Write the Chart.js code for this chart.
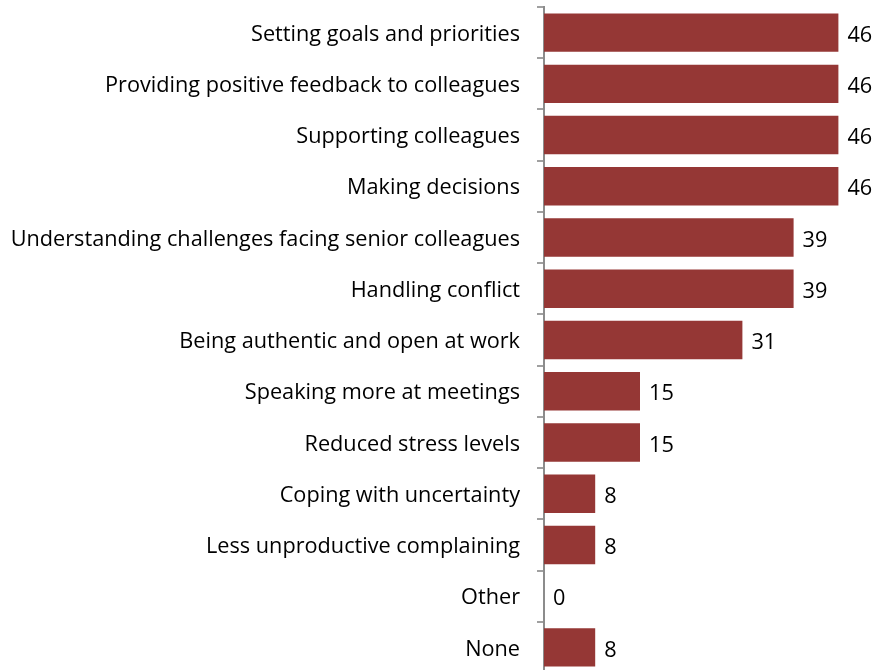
<!DOCTYPE html>
<html>
<head>
<meta charset="utf-8">
<script src="https://cdn.jsdelivr.net/npm/chart.js@4/dist/chart.umd.min.js"></script>
<style>
  html, body { margin: 0; padding: 0; background: #fff; overflow: hidden; }
  #wrap { width: 876px; height: 673px; }
</style>
</head>
<body>
<div id="wrap"><canvas id="barChart" width="876" height="673"></canvas></div>
<script>
const categories = [
    "Setting goals and priorities",
    "Providing positive feedback to colleagues",
    "Supporting colleagues",
    "Making decisions",
    "Understanding challenges facing senior colleagues",
    "Handling conflict",
    "Being authentic and open at work",
    "Speaking more at meetings",
    "Reduced stress levels",
    "Coping with uncertainty",
    "Less unproductive complaining",
    "Other",
    "None"
];
const values = [46, 46, 46, 46, 39, 39, 31, 15, 15, 8, 8, 0, 8];

const FONT = "'Open Sans', Lato, sans-serif";
const FONT_SIZE = 21.7;

// writes each value just past the end of its bar
const valueLabels = {
    id: "valueLabels",
    afterDatasetsDraw(chart) {
        const ctx = chart.ctx;
        const meta = chart.getDatasetMeta(0);
        ctx.save();
        ctx.font = FONT_SIZE + "px " + FONT;
        ctx.fillStyle = "#000";
        ctx.textAlign = "left";
        ctx.textBaseline = "middle";
        meta.data.forEach((bar, i) => {
            ctx.fillText(String(values[i]), bar.x + 9, bar.y + 3);
        });
        ctx.restore();
    }
};

const ctx = document.getElementById("barChart").getContext("2d");
new Chart(ctx, {
    type: "bar",
    data: {
        labels: categories,
        datasets: [{
            data: values,
            backgroundColor: "#953735",
            borderWidth: 0,
            barPercentage: 0.75,
            categoryPercentage: 1.0
        }]
    },
    options: {
        indexAxis: "y",
        responsive: false,
        animation: false,
        layout: { padding: { top: 7, right: 12, bottom: 0, left: 0 } },
        plugins: {
            legend: { display: false },
            tooltip: { enabled: false }
        },
        scales: {
            x: {
                display: false,
                min: 0,
                max: 50
            },
            y: {
                afterFit(scale) {
                    // fixed axis position, no extra room above/below the bars
                    scale.width = 544;
                    scale.paddingTop = 0;
                    scale.paddingBottom = 0;
                },
                border: { display: true, color: "#8c8c8c", width: 2 },
                grid: {
                    display: true,
                    offset: true,
                    drawOnChartArea: false,
                    drawTicks: true,
                    tickLength: 7,
                    color: "#a0a0a0",
                    lineWidth: 2
                },
                ticks: {
                    color: "#000",
                    padding: 17,
                    labelOffset: 2,
                    font: { family: FONT, size: FONT_SIZE }
                }
            }
        }
    },
    plugins: [valueLabels]
});
</script>
</body>
</html>
